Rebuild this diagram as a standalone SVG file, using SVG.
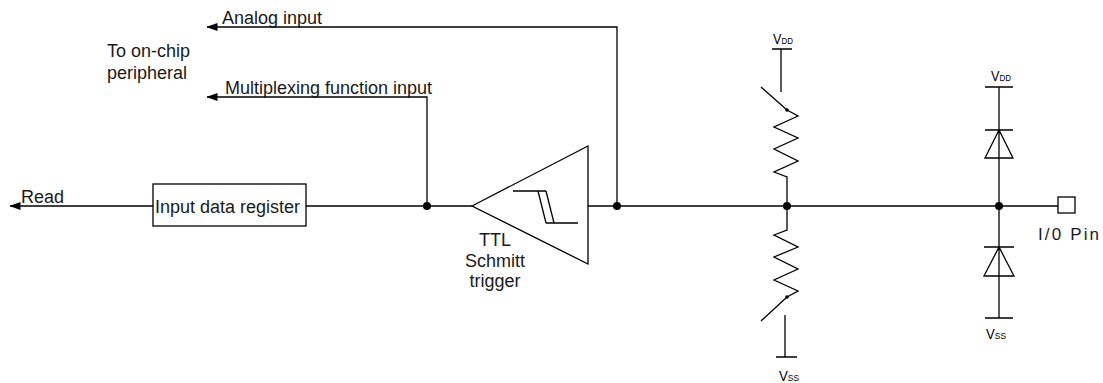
<svg xmlns="http://www.w3.org/2000/svg" width="1103" height="383" viewBox="0 0 1103 383">
<style>
.w{fill:none;stroke:#000;stroke-width:1.3}
.t{font-family:"Liberation Sans",Arial,sans-serif;font-size:18px;fill:#1a1a1a}
.v{font-family:"Liberation Sans",Arial,sans-serif;font-size:15px;fill:#000}
.s{font-size:9.5px}
.dot{fill:#000}
</style>
<defs>
<marker id="arr" viewBox="0 0 11 8" refX="10.5" refY="4" markerWidth="11" markerHeight="8" markerUnits="userSpaceOnUse" orient="auto">
<path d="M0,0 L11,4 L0,8 Z" fill="#000"/>
</marker>
</defs>
<rect width="1103" height="383" fill="#fff"/>

<g id="connectors">
<path class="w" d="M617,206 V27 H207" marker-end="url(#arr)"/>
<path class="w" d="M427,206 V97 H207" marker-end="url(#arr)"/>
<path class="w" d="M153,206 H10" marker-end="url(#arr)"/>
<path class="w" d="M306,206 H472"/>
<path class="w" d="M588,206 H1058"/>
<circle class="dot" cx="427" cy="206" r="4"/>
<circle class="dot" cx="617" cy="206" r="4"/>
<circle class="dot" cx="787" cy="206" r="4"/>
<circle class="dot" cx="999" cy="206" r="4"/>
</g>

<g id="labels">
<text class="t" x="222" y="24">Analog input</text>
<text class="t" x="107" y="57">To on-chip</text>
<text class="t" x="107" y="79">peripheral</text>
<text class="t" x="225" y="94">Multiplexing function input</text>
<text class="t" x="21" y="203">Read</text>
</g>

<g id="input-data-register">
<rect class="w" x="153" y="184" width="153" height="42"/>
<text class="t" x="155" y="213">Input data register</text>
</g>

<g id="schmitt-trigger">
<path class="w" d="M472,206 L588,146 L588,264 Z"/>
<path class="w" d="M513,191 H546 M538,191 L546,223 M546,191 L554,223 M546,223 H578"/>
<text class="t" x="495" y="246" text-anchor="middle">TTL</text>
<text class="t" x="495" y="267" text-anchor="middle">Schmitt</text>
<text class="t" x="495" y="287" text-anchor="middle">trigger</text>
</g>

<g id="pull-up">
<text class="v" x="773" y="44" textLength="20" lengthAdjust="spacingAndGlyphs">V<tspan class="s">DD</tspan></text>
<path class="w" d="M772,49 H792 M781,49 V92 M761,87 L787,110"/>
<circle class="dot" cx="787" cy="110" r="1.8"/>
<path class="w" d="M787,110 L798,116 L774,127 L798,138 L774,149 L798,161 L774,172 L787,177 V206"/>
</g>

<g id="pull-down">
<path class="w" d="M787,206 V230 L774,235 L798,247 L774,257 L798,269 L774,280 L798,291 L787,297 M787,297 L761,321 M785,315 V357 M776,357 H797"/>
<circle class="dot" cx="787" cy="297" r="1.8"/>
<text class="v" x="779" y="381" textLength="20" lengthAdjust="spacingAndGlyphs">V<tspan class="s">SS</tspan></text>
</g>

<g id="protection-diodes">
<text class="v" x="991" y="81" textLength="20" lengthAdjust="spacingAndGlyphs">V<tspan class="s">DD</tspan></text>
<path class="w" d="M985,87 H1013 M999,87 V318 M985,130 H1013 M999,130 L985,158 H1013 Z M984,247 H1014 M999,247 L984,276 H1014 Z M985,318 H1013"/>
<text class="v" x="986" y="339" textLength="20" lengthAdjust="spacingAndGlyphs">V<tspan class="s">SS</tspan></text>
</g>

<g id="io-pin">
<rect class="w" x="1058" y="197" width="17" height="16"/>
<text class="t" x="1038" y="240" style="font-size:17px" textLength="61">I/0 Pin</text>
</g>
</svg>
